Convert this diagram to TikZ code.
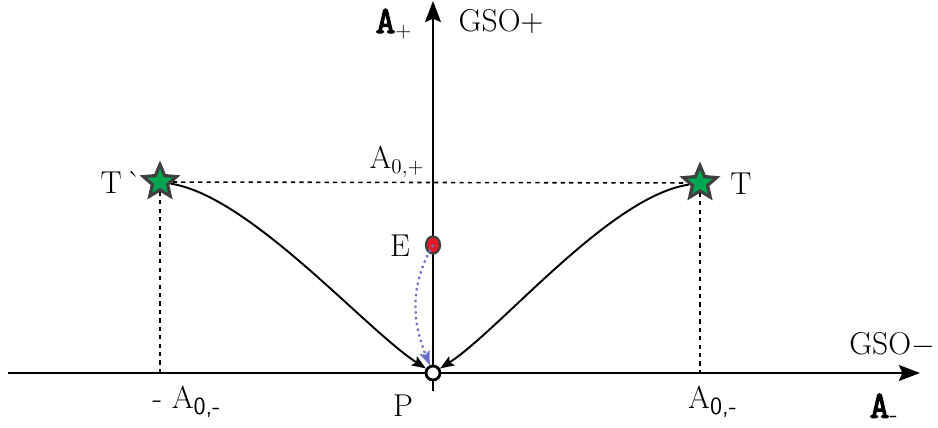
\documentclass[tikz,border=0pt]{standalone}
\usepackage{fontspec}
\newfontfamily\axisfont{Latin Modern Mono}[AutoFakeBold=3]
\usetikzlibrary{arrows.meta,positioning,shapes.geometric,calc}

\definecolor{stargreen}{RGB}{0,166,81}
\definecolor{stardraw}{RGB}{64,64,64}
\definecolor{dotred}{RGB}{228,28,40}
\definecolor{pathblue}{RGB}{112,112,200}

\newcommand{\axisA}{{\axisfont\bfseries\fontsize{22}{24}\selectfont A}}
\newcommand{\subsf}[1]{\textsubscript{\sffamily\fontsize{14}{16}\selectfont #1}}

\begin{document}
\begin{tikzpicture}[
  x=0.02cm, y=-0.02cm,
  lbl/.style={font=\fontsize{18}{21}\selectfont, inner sep=0pt},
  axis/.style={line width=1.6pt, -{Stealth[length=12pt,width=9pt,inset=2pt]}},
  starnode/.style={
    star, star points=5, star point ratio=2.2, minimum size=0.7cm,
    inner sep=0pt, fill=stargreen, draw=stardraw, line width=1.8pt
  },
  guide/.style={line width=0.9pt, dash pattern=on 2.4pt off 2.4pt},
  flow/.style={line width=1.1pt, -{Stealth[length=8pt,width=6pt,inset=1.5pt]}},
  relax/.style={line width=1.3pt, pathblue, dotted,
    -{Stealth[length=8pt,width=6pt,inset=1.5pt]}}
]
\useasboundingbox (0,0) rectangle (938,427);

% axes
\coordinate (O) at (433,373);
\coordinate (xs) at (8,373);
\coordinate (xe) at (920,373);
\coordinate (ys) at (433,391);
\coordinate (ye) at (433,1);
\draw[axis] (xs) -- (xe);
\draw[axis] (ys) -- (ye);

% states
\node[starnode] (T) at (700,183) {};
\node[starnode] (Tl) at (160,182) {};
\node[ellipse, fill=dotred, draw=stardraw, line width=1.3pt,
  minimum width=0.28cm, minimum height=0.34cm, inner sep=0pt] (E) at (433,245) {};

% guides
\draw[guide] (Tl) -- (T);
\draw[guide] (Tl) -- (Tl |- O);
\draw[guide] (T) -- (T |- O);

\node[circle, fill=white, draw, line width=1.6pt, minimum size=0.28cm,
  inner sep=0pt] (P) at (O) {};

% paths
\draw[flow] (T) .. controls (610,196) and (500,330) .. (P);
\draw[flow] (Tl) .. controls (250,196) and (366,330) .. (P);
\draw[relax] (E.center) to[out=240, in=112] (P);

% labels
\node[lbl] (ap) at (394,24) {\axisA$_+$};
\node[lbl] (gp) at (501,21) {GSO+};
\node[lbl] (a0p) at (397,162) {A$_{0,+}$};
\node[lbl] (tl) at (121,182) {T\,\textasciigrave};
\node[lbl] (tr) at (741,184) {T};
\node[lbl] (el) at (400,246) {E};
\node[lbl] (pl) at (403,406) {P};
\node[lbl] (a0m) at (187,402) {- A\subsf{0,-}};
\node[lbl] (a0r) at (713,402) {A\subsf{0,-}};
\node[lbl] (am) at (884,408) {\axisA\subsf{-}};
\node[lbl] (gm) at (892,345) {GSO$-$};
\end{tikzpicture}
\end{document}
